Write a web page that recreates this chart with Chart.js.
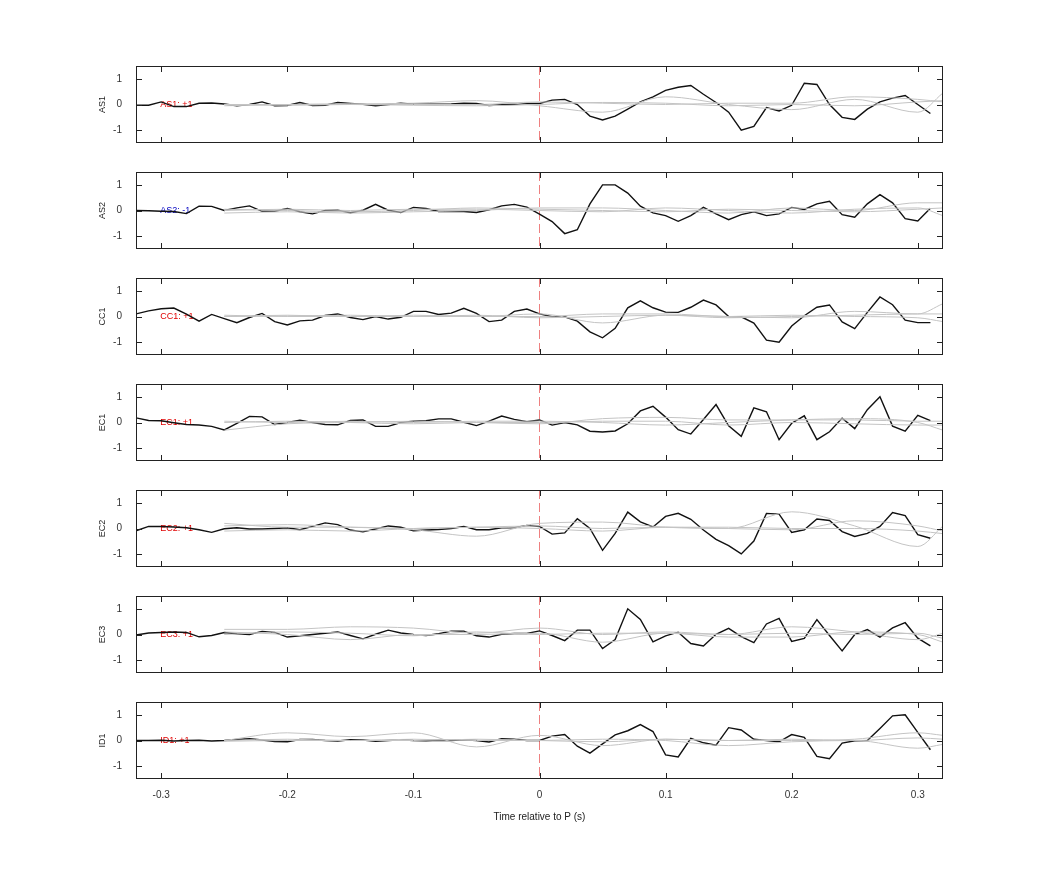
<!DOCTYPE html>
<html><head><meta charset="utf-8">
<script src="https://cdn.jsdelivr.net/npm/chart.js@4"></script>
<style>body{margin:0;background:#fff;width:1042px;height:875px;position:relative;overflow:hidden}canvas{position:absolute;left:0}</style>
</head><body>
<script>
const times = [];
for (let i = -32; i <= 31; i++) times.push(i / 100);
const panelNames = ["AS1","AS2","CC1","EC1","EC2","EC3","ID1"];
const panelLabels = ["AS1: +1","AS2: -1","CC1: +1","EC1: +1","EC2: +1","EC3: +1","ID1: +1"];
const labelColors = ["#e00000","#0000c0","#e00000","#e00000","#e00000","#e00000","#e00000"];
const xTicks = [-0.3,-0.2,-0.1,0,0.1,0.2,0.3];
const yTicks = [-1,0,1];

const AS1 = [-0.03,-0.03,0.1,-0.08,-0.08,0.05,0.06,0.02,-0.05,0,0.1,-0.05,-0.04,0.08,-0.04,-0.03,0.08,0.04,0.01,-0.05,0,0.05,0.01,0.01,0.01,0.02,0.05,0.04,-0.04,-0.01,0.01,0.04,
 0.04,0.17,0.2,0,-0.45,-0.6,-0.45,-0.18,0.1,0.3,0.55,0.67,0.74,0.4,0.08,-0.3,-1.0,-0.85,-0.12,-0.25,-0.03,0.83,0.78,0,-0.5,-0.58,-0.18,0.1,0.25,0.35,0,-0.35];
const AS2 = [0,-0.01,-0.03,-0.04,-0.12,0.17,0.16,0,0.1,0.18,-0.03,-0.03,0.08,-0.05,-0.13,0,0.01,-0.09,0.01,0.24,0.01,-0.08,0.12,0.08,-0.04,-0.04,-0.04,-0.08,0.03,0.18,0.24,0.13,
 -0.14,-0.43,-0.9,-0.75,0.26,1.0,1.0,0.68,0.17,-0.09,-0.2,-0.42,-0.2,0.12,-0.13,-0.36,-0.16,-0.05,-0.2,-0.13,0.12,0.04,0.26,0.36,-0.16,-0.26,0.26,0.62,0.3,-0.32,-0.41,0.09];
const CC1 = [0.1,0.22,0.3,0.33,0.09,-0.18,0.08,-0.08,-0.24,-0.04,0.12,-0.2,-0.33,-0.17,-0.14,0.04,0.1,-0.04,-0.12,0,-0.1,-0.03,0.2,0.2,0.08,0.13,0.32,0.12,-0.2,-0.14,0.2,0.29,
 0.1,-0.01,-0.01,-0.18,-0.6,-0.83,-0.46,0.34,0.61,0.34,0.17,0.16,0.36,0.64,0.45,0,-0.01,-0.26,-0.92,-1.0,-0.37,0.03,0.36,0.45,-0.21,-0.47,0.16,0.76,0.46,-0.14,-0.24,-0.24];
const EC1 = [0.18,0.08,0.07,-0.01,-0.08,-0.1,-0.15,-0.29,-0.03,0.24,0.22,-0.08,0,0.09,0,-0.08,-0.09,0.08,0.1,-0.15,-0.15,0,0.05,0.07,0.14,0.14,0.01,-0.12,0.05,0.25,0.12,0.03,
 0.1,-0.1,0,-0.09,-0.34,-0.37,-0.33,-0.05,0.45,0.63,0.21,-0.28,-0.45,0.12,0.7,-0.13,-0.54,0.57,0.42,-0.67,-0.03,0.26,-0.67,-0.36,0.17,-0.24,0.5,1.0,-0.14,-0.34,0.28,0.07];
const EC2 = [-0.09,0.08,0.08,0.06,0.03,-0.05,-0.15,-0.01,0.03,-0.02,-0.02,0,0.03,-0.05,0.08,0.22,0.15,-0.06,-0.13,-0.02,0.1,0.05,-0.09,-0.06,-0.04,0,0.08,-0.05,-0.05,0.03,0.03,0.12,
 0.08,-0.22,-0.17,0.38,0,-0.85,-0.19,0.64,0.26,0.06,0.47,0.59,0.36,-0.06,-0.42,-0.67,-0.99,-0.49,0.59,0.56,-0.15,-0.05,0.37,0.31,-0.12,-0.31,-0.19,0.08,0.62,0.5,-0.24,-0.38];
const EC3 = [-0.02,0.06,0.08,0.1,0.08,-0.09,-0.04,0.08,0.03,0,0.12,0.08,-0.1,-0.05,0,0.05,0.1,-0.04,-0.17,0.01,0.17,0.06,0,-0.04,0.03,0.13,0.13,-0.05,-0.1,0.01,0.04,0.04,
 0.14,-0.04,-0.24,0.17,0.17,-0.55,-0.2,1.0,0.59,-0.29,-0.05,0.09,-0.35,-0.45,0.01,0.24,-0.08,-0.32,0.41,0.63,-0.27,-0.15,0.58,-0.04,-0.64,0,0.19,-0.1,0.26,0.46,-0.14,-0.44];
const ID1 = [0,0,0.01,-0.02,0,0.01,-0.02,0,0.04,0.07,0.02,-0.04,-0.05,0.04,0.04,0,-0.02,0.03,0.02,-0.03,0,0.03,0,-0.01,0.01,0,0.03,0,-0.06,0.07,0.05,0,
 0,0.17,0.23,-0.22,-0.49,-0.13,0.22,0.38,0.62,0.35,-0.56,-0.64,0.08,-0.09,-0.18,0.5,0.41,0.05,0,-0.05,0.23,0.12,-0.62,-0.71,-0.1,-0.01,0,0.47,0.96,1.0,0.32,-0.36];
const blackSeries = [AS1,AS2,CC1,EC1,EC2,EC3,ID1];

const grayTimes = [-0.25,-0.2,-0.15,-0.1,-0.05,0,0.05,0.1,0.15,0.2,0.25,0.3,0.32];
const grayAS1 = [[0,0,0.02,0.05,0.15,-0.05,-0.3,0.3,0.0,-0.2,0.2,-0.3,0.45],[-0.05,0,0.02,0,0,0.1,0.05,0,0.05,0.05,0.3,0.2,0.1],[0,-0.03,0,-0.03,-0.05,0,0.08,0.05,-0.05,0,-0.05,0.1,0.15]];
const grayAS2 = [[-0.1,-0.05,-0.1,-0.05,0,0.1,0.1,0,-0.1,0.1,0,0.3,0.3],[0,0.05,0,0.05,0.05,0,-0.05,0.1,0,-0.1,0.05,0.1,-0.2],[0.05,0,-0.05,0,0.1,0.05,0,-0.05,0.05,0,-0.05,0.05,0.1]];
const grayCC1 = [[0,0.02,0.05,0,0,0.1,-0.25,0.05,0,-0.05,0.2,0.1,0.5],[0.05,0,0,0.05,0,0,0.1,0.1,0,0.05,0,-0.05,-0.2],[0,0.05,0,0,0.05,-0.05,0,0.05,-0.05,0,0.05,0.1,0.1]];
const grayEC1 = [[-0.3,-0.05,0,0.05,0,-0.05,0.15,0.2,0.1,0.1,0.1,0.05,0.05],[0.05,0,0.05,0,0.05,0.05,0,-0.1,0,0.1,0.15,0,-0.3],[0,0.05,0,-0.05,0,0,0.05,0.05,-0.1,0,-0.05,-0.1,-0.1]];
const grayEC2 = [[0.2,0.05,0.05,-0.05,-0.3,0.2,0.25,0.05,0,0.65,0.1,-0.7,0.1],[0.1,0.15,0.05,0,0.05,0,-0.1,0.05,0,-0.05,0.3,0.1,-0.1],[-0.1,-0.05,-0.1,0,0.05,0.1,0,0.05,0.05,0,0,-0.1,-0.2]];
const grayEC3 = [[0.2,0.2,0.3,0.25,0.05,0.25,0,0.1,0,0.3,0.1,-0.2,0.05],[0.1,0,-0.2,0,0,0.05,-0.3,0.05,-0.1,-0.1,0.1,0,-0.3],[0,0.1,0.05,-0.05,0.1,0,0.05,0.05,0,0.05,0,0.05,-0.15]];
const grayID1 = [[0,0.3,0.15,0.3,-0.25,0.2,-0.2,0.05,0,0.05,0,0.1,0.05],[0,0.05,0,0.05,0,0,0.05,0,-0.2,-0.05,0,-0.3,-0.15],[-0.03,0,0,0,0.05,0,-0.05,0.05,0,0,0.05,0.3,0.2]];
const graySeries = [grayAS1,grayAS2,grayCC1,grayEC1,grayEC2,grayEC3,grayID1];

const FONT = "'Liberation Sans', Arial, sans-serif";
const boxPlugin = {
  id: 'box',
  beforeDatasetsDraw(chart, args, opts) {
    const {ctx, chartArea: a, scales: {x, y}} = chart;
    ctx.save();
    const x0 = x.getPixelForValue(0);
    ctx.strokeStyle = '#ee8080'; ctx.lineWidth = 1; ctx.setLineDash([9,4]);
    ctx.beginPath(); ctx.moveTo(x0, a.top); ctx.lineTo(x0, a.bottom); ctx.stroke();
    ctx.setLineDash([]);
    ctx.fillStyle = opts.color; ctx.font = '9px ' + FONT; ctx.textBaseline = 'middle'; ctx.textAlign = 'left';
    ctx.fillText(opts.label, x.getPixelForValue(-0.3) - 1, y.getPixelForValue(0));
    ctx.restore();
  },
  afterDraw(chart, args, opts) {
    const {ctx, chartArea: a, scales: {x, y}} = chart;
    ctx.save();
    ctx.strokeStyle = '#222'; ctx.lineWidth = 1;
    ctx.strokeRect(a.left + 0.5, a.top + 0.5, a.right - a.left - 1, a.bottom - a.top - 1);
    ctx.beginPath();
    xTicks.forEach(v => { const p = Math.round(x.getPixelForValue(v)) + 0.5;
      ctx.moveTo(p, a.top); ctx.lineTo(p, a.top + 6); ctx.moveTo(p, a.bottom); ctx.lineTo(p, a.bottom - 6); });
    yTicks.forEach(v => { const p = Math.round(y.getPixelForValue(v)) + 0.5;
      ctx.moveTo(a.left, p); ctx.lineTo(a.left + 6, p); ctx.moveTo(a.right, p); ctx.lineTo(a.right - 6, p); });
    ctx.stroke();
    ctx.fillStyle = '#222'; ctx.font = '9px ' + FONT; ctx.textAlign = 'center'; ctx.textBaseline = 'middle';
    ctx.translate(103, (a.top + a.bottom) / 2); ctx.rotate(-Math.PI / 2);
    ctx.fillText(opts.name, 0, 0);
    ctx.restore();
  }
};

panelNames.forEach((name, i) => {
  const last = i === panelNames.length - 1;
  const top = 66 + 106 * i - 12;
  const h = last ? 137 : 101;
  const c = document.createElement('canvas');
  c.width = 1042; c.height = h;
  c.style.top = top + 'px'; c.style.width = '1042px'; c.style.height = h + 'px';
  document.body.appendChild(c);
  const datasets = graySeries[i].map(g => ({
    data: grayTimes.map((t, k) => ({x: t, y: g[k]})),
    borderColor: '#c4c4c4', borderWidth: 1, pointRadius: 0, tension: 0.4, cubicInterpolationMode: 'monotone'
  }));
  datasets.push({
    data: times.map((t, k) => ({x: t, y: blackSeries[i][k]})),
    borderColor: '#111', borderWidth: 1.4, pointRadius: 0, tension: 0
  });
  new Chart(c, {
    type: 'line',
    data: {datasets},
    plugins: [boxPlugin],
    options: {
      responsive: false, animation: false, devicePixelRatio: 1,
      layout: {padding: {left: 0, right: 99, top: 8, bottom: last ? 0 : 7}},
      plugins: {legend: {display: false}, tooltip: {enabled: false},
        box: {label: panelLabels[i], color: labelColors[i], name: name}},
      scales: {
        x: {type: 'linear', min: -0.32, max: 0.32, display: last,
          grid: {display: false}, border: {display: false},
          afterBuildTicks: s => { s.ticks = xTicks.map(v => ({value: v})); },
          afterFit: s => { s.height = last ? 48 : 0; },
          ticks: {color: '#333', font: {size: 10, family: FONT}, padding: 2, maxRotation: 0, callback: v => String(Math.round(v*10)/10)},
          title: {display: true, text: 'Time relative to P (s)', color: '#222', font: {size: 10, family: FONT}, padding: {top: 6}}
        },
        y: {min: -1.5, max: 1.5,
          grid: {display: false}, border: {display: false},
          afterBuildTicks: s => { s.ticks = yTicks.map(v => ({value: v})); },
          afterFit: s => { s.width = 136; },
          ticks: {color: '#333', font: {size: 10, family: FONT}, padding: 6}
        }
      }
    }
  });
});
</script>
</body></html>
